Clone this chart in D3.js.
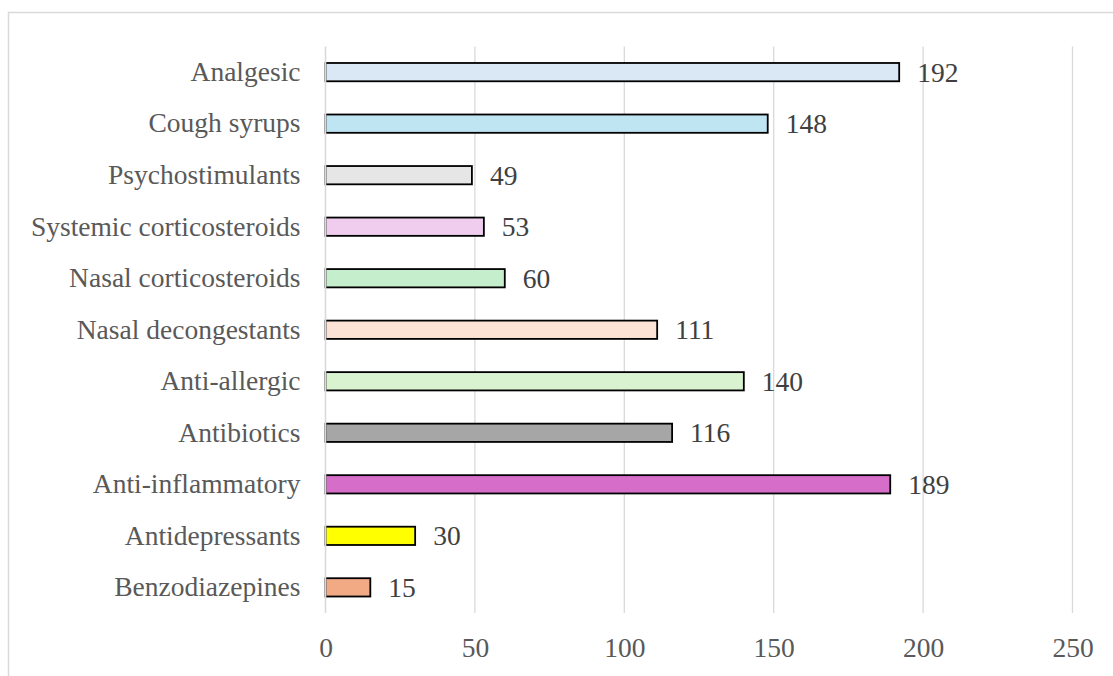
<!DOCTYPE html>
<html>
<head>
<meta charset="utf-8">
<script src="https://cdn.jsdelivr.net/npm/d3@7"></script>
<style>
  html, body { margin: 0; padding: 0; background: #fff; }
  svg { display: block; }
</style>
</head>
<body>
<svg id="chart" width="1113" height="676"></svg>
<script>
// Medication classes, listed top to bottom
const categories = [
  "Analgesic", "Cough syrups", "Psychostimulants", "Systemic corticosteroids",
  "Nasal corticosteroids", "Nasal decongestants", "Anti-allergic", "Antibiotics",
  "Anti-inflammatory", "Antidepressants", "Benzodiazepines"
];
const counts = [192, 148, 49, 53, 60, 111, 140, 116, 189, 30, 15];
const barColors = [
  "#dae8f5", "#bfe4f2", "#e6e6e6", "#f0cdee", "#c5efcc", "#fbe2d5",
  "#d9f2d0", "#a6a6a6", "#d66ec9", "#ffff00", "#f1aa84"
];
const xTicks = [0, 50, 100, 150, 200, 250];

const svg = d3.select("#chart");
const font = "'Liberation Serif', 'Times New Roman', serif";
const fontSize = 27.5;

// Chart frame
svg.append("rect")
  .attr("x", 8.5).attr("y", 12.5)
  .attr("width", 1120).attr("height", 700)
  .attr("fill", "#fff")
  .attr("stroke", "#d9d9d9").attr("stroke-width", 1.5);

const plot = { left: 325.5, right: 1072.5, top: 46.5, bottom: 613 };

const x = d3.scaleLinear().domain([0, 250]).range([plot.left, plot.right]);
const y = d3.scaleBand().domain(categories).range([plot.top, plot.bottom]).paddingInner(0.645).paddingOuter(0.32);

// Vertical gridlines
svg.append("g")
  .selectAll("line")
  .data(xTicks.filter(t => t > 0))
  .join("line")
  .attr("x1", d => x(d)).attr("x2", d => x(d))
  .attr("y1", plot.top).attr("y2", plot.bottom)
  .attr("stroke", "#d9d9d9").attr("stroke-width", 1.3);

// Bars
const rows = categories.map((c, i) => ({ cat: c, value: counts[i], color: barColors[i] }));
svg.append("g")
  .selectAll("rect")
  .data(rows)
  .join("rect")
  .attr("x", x(0))
  .attr("y", d => y(d.cat))
  .attr("width", d => x(d.value) - x(0))
  .attr("height", y.bandwidth())
  .attr("fill", d => d.color)
  .attr("stroke", "#000").attr("stroke-width", 1.8);

// Zero baseline drawn over the bar starts
svg.append("line")
  .attr("x1", x(0)).attr("x2", x(0))
  .attr("y1", plot.top).attr("y2", plot.bottom)
  .attr("stroke", "#d9d9d9").attr("stroke-width", 1.6);

// Value labels
svg.append("g")
  .selectAll("text")
  .data(rows)
  .join("text")
  .attr("x", d => x(d.value) + 18)
  .attr("y", d => y(d.cat) + y.bandwidth() / 2)
  .attr("dy", "0.35em")
  .attr("font-family", font).attr("font-size", fontSize)
  .attr("fill", "#404040")
  .text(d => d.value);

// Category axis
const yAxis = svg.append("g")
  .attr("transform", `translate(${plot.left},0)`)
  .call(d3.axisLeft(y).tickSize(0).tickPadding(25));
yAxis.select(".domain").remove();
yAxis.selectAll("text")
  .attr("font-family", font).attr("font-size", fontSize)
  .attr("fill", "#595959");

// Value axis
const xAxis = svg.append("g")
  .attr("transform", `translate(0,${plot.bottom})`)
  .call(d3.axisBottom(x).tickValues(xTicks).tickSize(0).tickPadding(24));
xAxis.select(".domain").remove();
xAxis.selectAll("text")
  .attr("font-family", font).attr("font-size", fontSize)
  .attr("fill", "#595959");
</script>
</body>
</html>
